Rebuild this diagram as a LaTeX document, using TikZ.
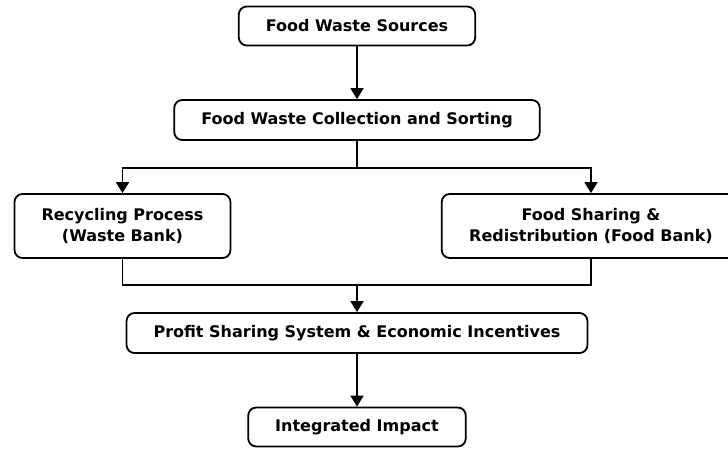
\documentclass[tikz,border=0pt]{standalone}
\usepackage{fontspec}
\setmainfont{DejaVu Sans}
\usetikzlibrary{arrows.meta, positioning}

\begin{document}
\begin{tikzpicture}[x=1pt, y=-1pt,
	stage/.style={draw, line width=1.8pt, rounded corners=8pt, inner xsep=27pt, inner ysep=0pt,
		minimum height=39pt, align=center,
		font=\fontsize{16}{21.5}\selectfont\bfseries},
	flow/.style={line width=1.8pt, -{Triangle[width=13pt,length=11pt]}}]
		\useasboundingbox (0,0) rectangle (728,448);
		\clip (0,0) rectangle (728,448);
		\draw (357,26)     node[stage] (src) {Food Waste Sources}
		(357,120) node[stage, minimum height=40pt] (sort) {Food Waste Collection and Sorting}
		(122.5,226) node[stage, minimum height=64pt] (recycle) {Recycling Process\\(Waste Bank)}
		(591,226) node[stage, minimum height=64pt, inner xsep=27.5pt] (share) {Food Sharing \&\\Redistribution (Food Bank)}
		(357,333) node[stage, minimum height=40pt] (profit) {Profit Sharing System \& Economic Incentives}
		(357,427) node[stage] (impact) {Integrated Impact};
		\coordinate (split) at (357,168);
		\coordinate (merge) at (357,285);
		
		\draw[flow] (src) -- (sort);
		\draw[line width=1.8pt] (sort.south) -- (split);
		\draw[flow] (split) -| (recycle.north);
		\draw[flow] (split) -| (share.north);
		\draw[line width=1.8pt] (recycle.south) |- (merge);
		\draw[line width=1.8pt] (share.south) |- (merge);
		\draw[flow] (merge) -- (profit);
		\draw[flow] (profit) -- (impact);
	\end{tikzpicture}
\end{document}
